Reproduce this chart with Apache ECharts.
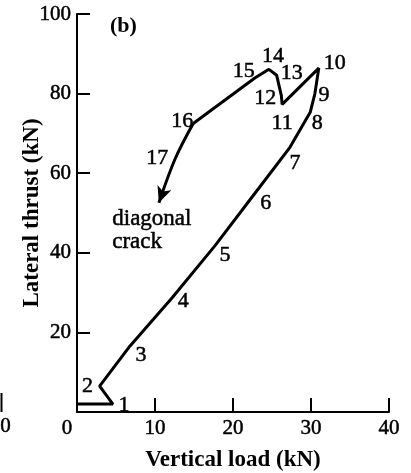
<!DOCTYPE html>
<html>
<head>
<meta charset="utf-8">
<script src="https://cdn.jsdelivr.net/npm/echarts@6/dist/echarts.min.js"></script>
<style>html,body{margin:0;padding:0;background:#fff;}#c{width:411px;height:473px;}</style>
</head>
<body>
<div id="c"></div>
<script>
// Load path (vertical load kN, lateral thrust kN)
const pointNames = ['', '1', '2', '3', '4', '5', '6', '7', '8', '9', '10', '11', '12', '13', '14', '15', '16'];
const verticalLoad = [0, 4.6, 2.9, 6.8, 12.2, 17.7, 22.4, 27.3, 29.9, 30.5, 31.0, 26.3, 26.2, 25.6, 24.6, 22.8, 14.9];
const lateralThrust = [2, 2, 6.5, 16.6, 28.7, 41.8, 53.9, 66.5, 75.3, 80.0, 86.4, 77.3, 79.5, 84.6, 86.1, 83.9, 72.5];
// Final crack branch (16 -> 17 -> arrow)
const branchNames = ['', '17', ''];
const branchLoad = [14.9, 12.6, 10.5];
const branchThrust = [72.5, 63.7, 52.6];
const xTicks = [0, 10, 20, 30, 40];
const yTicks = [0, 20, 40, 60, 80, 100];

// label placement styles: [dx, dy] of label centre from the point, in px
const labelOffsets = {
  '1': [11, 1], '2': [-12, 0], '3': [11, 9], '4': [11, 3],
  '5': [10, 10], '6': [14, 6], '7': [5, 16], '8': [7, 11],
  '9': [9, 2], '10': [16, -5], '11': [0, 19], '12': [-16, 3],
  '13': [15, -2], '14': [4, -13], '15': [-11, -7], '16': [-11, -2],
  '17': [-18, 0]
};
const font = 'Liberation Serif';
const hidden = { color: 'rgba(0,0,0,0)', borderWidth: 0 };
function mk(name, x, y) {
  const item = { value: [x, y], itemStyle: hidden };
  if (name) {
    const o = labelOffsets[name];
    item.label = { show: true, formatter: name, position: [o[0] + 1, o[1] + 1], align: 'center', verticalAlign: 'middle' };
  }
  return item;
}
const mainData = verticalLoad.map((x, i) => mk(pointNames[i], x, lateralThrust[i]));
const branchData = branchLoad.map((x, i) => {
  const it = mk(branchNames[i], x, branchThrust[i]);
  if (i === branchLoad.length - 1) {
    it.symbol = 'arrow'; it.symbolSize = [11, 16]; it.symbolRotate = 160;
    it.itemStyle = { color: '#000', borderWidth: 0, opacity: 1 };
  }
  return it;
});

const chart = echarts.init(document.getElementById('c'), null, { renderer: 'canvas' });
const heavy = { textBorderColor: '#000', textBorderWidth: 0.5 };
const lblStyle = Object.assign({ show: false, color: '#000', fontFamily: font, fontSize: 22 }, heavy);
chart.setOption({
  backgroundColor: '#fff',
  animation: false,
  grid: { left: 77, right: 22, top: 14, bottom: 61, containLabel: false, outerBoundsMode: 'none' },
  xAxis: {
    type: 'value', min: xTicks[0], max: xTicks[xTicks.length - 1], interval: 10,
    name: 'Vertical load (kN)', nameLocation: 'middle', nameGap: 37, nameMoveOverlap: false,
    nameTextStyle: { color: '#000', fontFamily: font, fontSize: 23, fontWeight: 'bold' },
    axisLine: { show: true, onZero: false, lineStyle: { color: '#000', width: 2 } },
    axisTick: { show: true, inside: true, length: 14, lineStyle: { color: '#000', width: 2 } },
    axisLabel: Object.assign({
      color: '#000', fontFamily: font, fontSize: 21, margin: 6,
      formatter: v => v === 0 ? '{z|0}' : String(v),
      rich: { z: Object.assign({ fontFamily: font, fontSize: 21, color: '#000', padding: [0, 20, 0, 0] }, heavy) }
    }, heavy),
    splitLine: { show: false }
  },
  yAxis: {
    type: 'value', min: yTicks[0], max: yTicks[yTicks.length - 1], interval: 20,
    name: 'Lateral thrust (kN)', nameLocation: 'middle', nameGap: 33, nameRotate: 90, nameMoveOverlap: false,
    nameTextStyle: { color: '#000', fontFamily: font, fontSize: 23, fontWeight: 'bold' },
    axisLine: { show: true, onZero: false, lineStyle: { color: '#000', width: 2 } },
    axisTick: { show: true, inside: true, length: 13, lineStyle: { color: '#000', width: 2 } },
    axisLabel: Object.assign({ color: '#000', fontFamily: font, fontSize: 21, margin: 6, formatter: v => v === 0 ? '' : String(v) }, heavy),
    splitLine: { show: false }
  },
  series: [
    {
      type: 'line', data: mainData, symbol: 'circle', symbolSize: 2, showSymbol: true, smooth: false,
      lineStyle: { color: '#000', width: 3 }, itemStyle: hidden, label: lblStyle, z: 3,
      labelLayout: { hideOverlap: false }
    },
    {
      type: 'line', data: branchData, symbol: 'circle', symbolSize: 2, showSymbol: true, smooth: 0.35,
      lineStyle: { color: '#000', width: 3 }, itemStyle: hidden, label: lblStyle, z: 4,
      labelLayout: { hideOverlap: false }
    }
  ],
  graphic: [
    { type: 'text', left: 110, top: 15, style: { text: '(b)', fill: '#000', font: 'bold 22px "Liberation Serif"' } },
    { type: 'text', left: 112, top: 207, style: { text: 'diagonal\ncrack', fill: '#000', font: '23px "Liberation Serif"', lineHeight: 23, stroke: '#000', lineWidth: 0.5 } },
    { type: 'line', shape: { x1: 1.5, y1: 393, x2: 1.5, y2: 412 }, style: { stroke: '#000', lineWidth: 2 } },
    { type: 'text', left: 0, top: 416, style: { text: '0', fill: '#000', font: '21px "Liberation Serif"', stroke: '#000', lineWidth: 0.5 } }
  ]
});
</script>
</body>
</html>
